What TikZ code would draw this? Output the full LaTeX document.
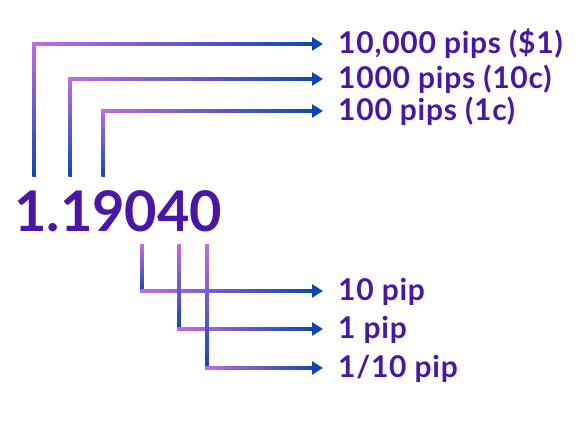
\documentclass[tikz,border=0pt]{standalone}
\usepackage{fontspec}
\setmainfont{Lato}
\usetikzlibrary{arrows.meta, positioning, calc}
\definecolor{pipviolet}{HTML}{C46BE2}
\definecolor{pipblue}{HTML}{0D47B3}
\definecolor{piptext}{HTML}{4A16A6}
\tikzset{
  piplabel/.style={anchor=base west, inner sep=0pt, font=\fontsize{30}{33}\selectfont\bfseries\addfontfeatures{LetterSpace=2.5}, text=piptext},
  vgrad/.style={top color=pipviolet, bottom color=pipblue},
  hgrad/.style={left color=pipviolet, right color=pipblue},
  pointer/.style={draw=pipblue, fill=pipblue, line width=3.5pt, -{Triangle[length=11pt, width=13pt]}}
}

\begin{document}
\begin{tikzpicture}[x=1pt, y=-1pt]
\useasboundingbox[fill=white] (0,0) rectangle (582,427);

% price quote
\node[anchor=base west, inner sep=0pt, font=\fontsize{56}{60}\selectfont\bfseries, text=piptext] (price) at (14,232) {1.19040};

% labels
\node[piplabel] (l1) at (338,54) {10,000 pips (\$1)};
\node[piplabel] (l2) at (338,89) {1000 pips (10c)};
\node[piplabel] (l3) at (338,121) {100 pips (1c)};
\node[piplabel] (l4) at (338,301) {10 pip};
\node[piplabel] (l5) at (338,339) {1 pip};
\node[piplabel] (l6) at (338,378) {1/10 pip};

% tips, corners and free ends
\coordinate (t1) at ($(l1.base west)+(-15,-10)$);
\coordinate (t2) at ($(l2.base west)+(-15,-10)$);
\coordinate (t3) at ($(l3.base west)+(-15,-10)$);
\coordinate (t4) at ($(l4.base west)+(-15,-10)$);
\coordinate (t5) at ($(l5.base west)+(-15,-10)$);
\coordinate (t6) at ($(l6.base west)+(-15,-10)$);
\coordinate (c1) at (34,0 |- t1);
\coordinate (c2) at (70,0 |- t2);
\coordinate (c3) at (103,0 |- t3);
\coordinate (c4) at (142,0 |- t4);
\coordinate (c5) at (179,0 |- t5);
\coordinate (c6) at (207,0 |- t6);
\coordinate (s1) at (34,177);
\coordinate (s2) at (70,177);
\coordinate (s3) at (103,177);
\coordinate (s4) at (142,245);
\coordinate (s5) at (179,245);
\coordinate (s6) at (207,245);

% upper digits
\shade[vgrad] ($(c1)+(-1.75,-1.75)$) rectangle ($(s1)+(1.75,0)$);
\shade[hgrad] ($(c1)+(-1.75,-1.75)$) rectangle ($(t1)+(-9,1.75)$);
\draw[pointer] ($(t1)+(-10,0)$) -- (t1);
\shade[vgrad] ($(c2)+(-1.75,-1.75)$) rectangle ($(s2)+(1.75,0)$);
\shade[hgrad] ($(c2)+(-1.75,-1.75)$) rectangle ($(t2)+(-9,1.75)$);
\draw[pointer] ($(t2)+(-10,0)$) -- (t2);
\shade[vgrad] ($(c3)+(-1.75,-1.75)$) rectangle ($(s3)+(1.75,0)$);
\shade[hgrad] ($(c3)+(-1.75,-1.75)$) rectangle ($(t3)+(-9,1.75)$);
\draw[pointer] ($(t3)+(-10,0)$) -- (t3);

% lower digits
\shade[vgrad] ($(s4)+(-1.75,0)$) rectangle ($(c4)+(1.75,1.75)$);
\shade[hgrad] ($(c4)+(-1.75,-1.75)$) rectangle ($(t4)+(-9,1.75)$);
\draw[pointer] ($(t4)+(-10,0)$) -- (t4);
\shade[vgrad] ($(s5)+(-1.75,0)$) rectangle ($(c5)+(1.75,1.75)$);
\shade[hgrad] ($(c5)+(-1.75,-1.75)$) rectangle ($(t5)+(-9,1.75)$);
\draw[pointer] ($(t5)+(-10,0)$) -- (t5);
\shade[vgrad] ($(s6)+(-1.75,0)$) rectangle ($(c6)+(1.75,1.75)$);
\shade[hgrad] ($(c6)+(-1.75,-1.75)$) rectangle ($(t6)+(-9,1.75)$);
\draw[pointer] ($(t6)+(-10,0)$) -- (t6);
\end{tikzpicture}
\end{document}
